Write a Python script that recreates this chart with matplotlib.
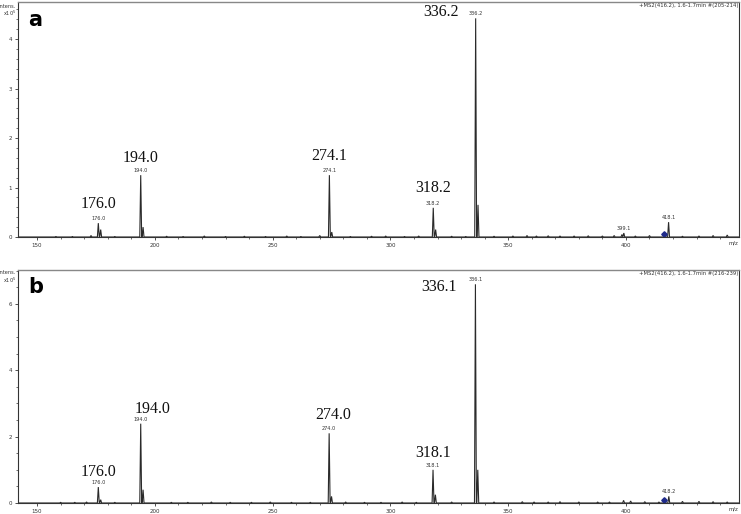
import numpy as np
import matplotlib
matplotlib.use("Agg")
import matplotlib.pyplot as plt
from matplotlib.ticker import MultipleLocator

# ---------------- data ----------------
# panel a: main peaks (m/z, intensity x1e5)
a_mz = [176.0, 194.0, 274.1, 318.2, 336.2, 399.1, 418.1]
a_int = [0.28, 1.25, 1.25, 0.59, 4.42, 0.08, 0.30]
a_labels = ["176.0", "194.0", "274.1", "318.2", "336.2", "399.1", "418.1"]
a_big = ["176.0", "194.0", "274.1", "318.2", "336.2", None, None]
# isotope / satellite peaks
a_sat_mz = [177.0, 195.0, 275.1, 319.2, 337.2, 398.3]
a_sat_int = [0.15, 0.20, 0.10, 0.15, 0.65, 0.05]
# noise peaks
a_noise_mz = [158, 165, 172.9, 183, 205, 212, 221, 230, 238, 247, 256, 262, 270, 283, 292,
              298, 306, 312, 326, 332, 344, 352, 358, 362, 367, 372, 378, 384, 390, 395, 404,
              410, 424, 431, 437, 443]
a_noise_int = [0.01, 0.01, 0.03, 0.01, 0.015, 0.01, 0.02, 0.01, 0.015, 0.01, 0.02, 0.01, 0.03,
               0.01, 0.015, 0.02, 0.01, 0.02, 0.015, 0.01, 0.015, 0.02, 0.03, 0.02, 0.025, 0.02,
               0.02, 0.025, 0.02, 0.03, 0.02, 0.03, 0.015, 0.02, 0.03, 0.04]

# panel b
b_mz = [176.0, 194.0, 274.0, 318.1, 336.1, 418.2]
b_int = [0.48, 2.39, 2.10, 1.00, 6.59, 0.20]
b_labels = ["176.0", "194.0", "274.0", "318.1", "336.1", "418.2"]
b_big = ["176.0", "194.0", "274.0", "318.1", "336.1", None]
b_sat_mz = [177.0, 195.0, 275.0, 319.1, 337.1, 399.0]
b_sat_int = [0.10, 0.40, 0.20, 0.25, 1.00, 0.08]
b_noise_mz = [160, 166, 171, 183, 207, 214, 224, 232, 241, 249, 258, 266, 281, 289, 296, 305,
              311, 326, 344, 356, 361, 367, 372, 380, 388, 393, 402, 408, 414, 424, 431, 437, 443]
b_noise_int = [0.02, 0.02, 0.03, 0.02, 0.02, 0.02, 0.03, 0.02, 0.02, 0.03, 0.02, 0.02, 0.03,
               0.02, 0.02, 0.03, 0.02, 0.03, 0.03, 0.04, 0.03, 0.03, 0.04, 0.03, 0.03, 0.03,
               0.06, 0.04, 0.03, 0.05, 0.05, 0.04, 0.03]

a_header = "+MS2(416.2), 1.6-1.7min #(205-214)"
b_header = "+MS2(416.2), 1.6-1.7min #(216-239)"
precursor = 416.2

XLIM = (141.9, 448.0)
LINE = "#2a2a2a"
SERIF = "Liberation Serif"


def spectrum(mzs, ints, xlim, w=0.4):
    pk = sorted(zip(mzs, ints))
    xs, ys = [xlim[0]], [0.0]
    for m, h in pk:
        xs += [m - w, m, m + w]
        ys += [0.0, h, 0.0]
    xs.append(xlim[1]); ys.append(0.0)
    return np.array(xs), np.array(ys)


def panel(ax, letter, mz, inten, labels, big, smz, sint, nmz, nint, header,
          ylim, ymaj, ymin, big_offsets, prec_y):
    allm = list(mz) + list(smz) + list(nmz)
    alli = list(inten) + list(sint) + list(nint)
    x, y = spectrum(allm, alli, XLIM)
    ax.plot(x, y, color=LINE, lw=0.8, solid_joinstyle="miter")
    ax.set_xlim(*XLIM)
    ax.set_ylim(*ylim)
    ax.xaxis.set_major_locator(MultipleLocator(50))
    ax.xaxis.set_minor_locator(MultipleLocator(10))
    ax.yaxis.set_major_locator(MultipleLocator(ymaj))
    ax.yaxis.set_minor_locator(MultipleLocator(ymin))
    ax.tick_params(axis="both", which="major", labelsize=4.0, length=2.5, width=0.6,
                   colors="#333333", pad=2)
    ax.tick_params(axis="both", which="minor", length=1.5, width=0.5, colors="#333333")
    ax.set_xticks([t for t in range(150, 450, 50)])
    ax.set_xticklabels([str(t) for t in range(150, 450, 50)])
    for s in ["left", "bottom", "right"]:
        ax.spines[s].set_color("#333333")
        ax.spines[s].set_linewidth(0.8)
    ax.spines["top"].set_color("#888888")
    ax.spines["top"].set_linewidth(1.0)
    # small labels
    for m, h, lab in zip(mz, inten, labels):
        ax.annotate(lab, (m, h), xytext=(0, 1.5), textcoords="offset points",
                    ha="center", va="bottom", fontsize=3.6, color="#333333")
    # big labels
    for (m, h, b), off in zip(zip(mz, inten, big), big_offsets):
        if b is None:
            continue
        ax.annotate(b, (m, h), xytext=off, textcoords="offset points",
                    ha="center", va="center", fontsize=11.5, family=SERIF, color="#111111")
    ax.plot([precursor], [prec_y], marker="D", ms=2.8, color="#1f2a8a", ls="none")
    ax.text(0.014, 0.925, letter, transform=ax.transAxes, fontsize=15, fontweight="bold",
            ha="left", va="center")
    ax.text(0.999, 0.995, header, transform=ax.transAxes, fontsize=3.8, ha="right",
            va="top", color="#333333")


fig = plt.figure(figsize=(7.41, 5.14), dpi=100)
ax1 = fig.add_axes([18 / 741, 1 - 237 / 514, 721 / 741, 235 / 514])
ax2 = fig.add_axes([18 / 741, 1 - 503 / 514, 721 / 741, 233 / 514])

pt = 72 / 100.0
offs_a = [(0, 19 * pt), (0, 17 * pt), (0, 19 * pt), (0, 20 * pt), (-35 * pt, 6 * pt), None, None]
offs_b = [(0, 15 * pt), (12 * pt, 15 * pt), (4 * pt, 18 * pt), (0, 17 * pt), (-36 * pt, -3 * pt), None]

panel(ax1, "a", a_mz, a_int, a_labels, a_big, a_sat_mz, a_sat_int, a_noise_mz, a_noise_int,
      a_header, (0, 4.75), 1, 0.2, offs_a, 0.07)
panel(ax2, "b", b_mz, b_int, b_labels, b_big, b_sat_mz, b_sat_int, b_noise_mz, b_noise_int,
      b_header, (0, 7.02), 2, 0.5, offs_b, 0.1)

for ytop in (3, 270):
    fig.text(16 / 741, 1 - (ytop + 3) / 514, "Intens.", fontsize=3.6, ha="right", va="center",
             color="#333333")
    fig.text(16 / 741, 1 - (ytop + 10) / 514, r"x10$^5$", fontsize=3.6, ha="right",
             va="center", color="#333333")
for ybot in (243, 509):
    fig.text(733 / 741, 1 - ybot / 514, "m/z", fontsize=3.8, ha="center", va="center",
             color="#333333")

fig.savefig("out.png", dpi=100)
